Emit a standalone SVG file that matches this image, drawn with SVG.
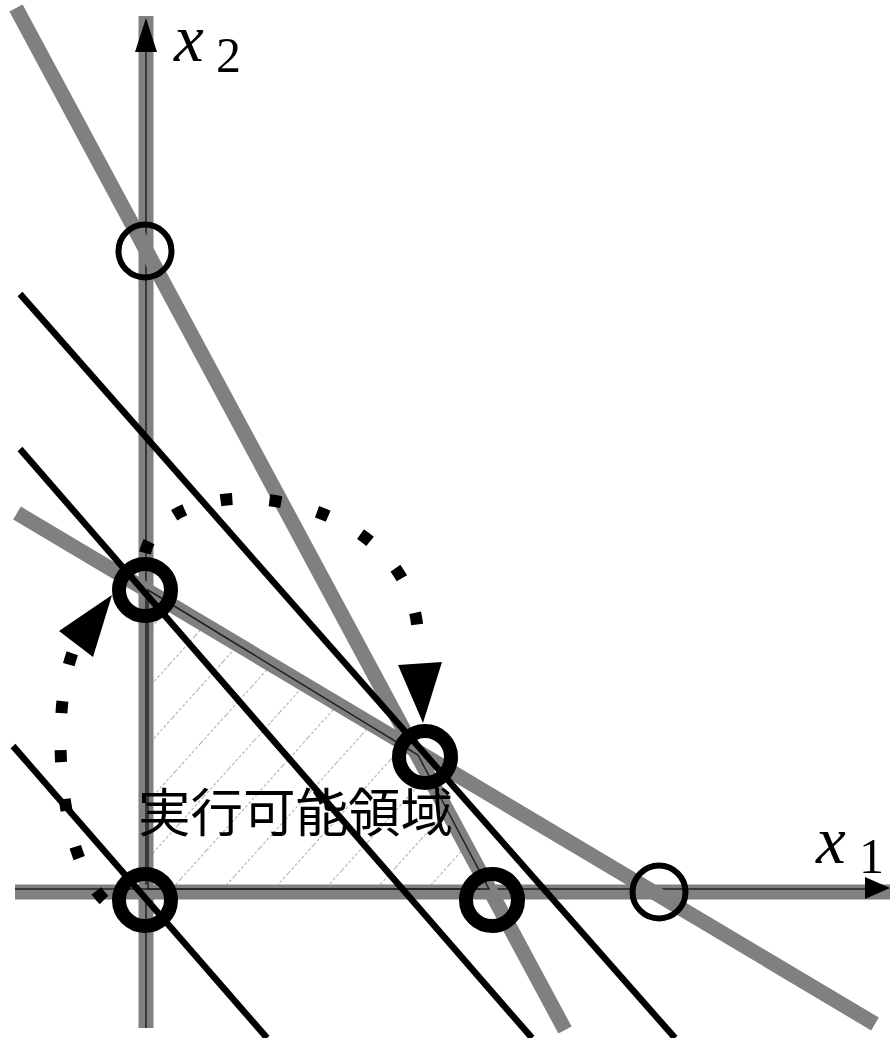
<svg xmlns="http://www.w3.org/2000/svg" width="890" height="1038" viewBox="0 0 890 1038">
  <defs>
    <pattern id="hatch" patternUnits="userSpaceOnUse" width="38" height="38" patternTransform="rotate(42)">
      <line x1="0" y1="0" x2="0" y2="38" stroke="#8c8c8c" stroke-width="1.4" stroke-dasharray="3 2"/>
    </pattern>
  </defs>
  <style>
    .band{stroke:#808080;stroke-width:15;fill:none;stroke-linecap:butt}
    .thin{stroke:#222;stroke-width:1.5;fill:none}
    .obj{stroke:#000;stroke-width:6.5;fill:none}
    .dots{stroke:#000;stroke-width:12;fill:none;stroke-dasharray:12 37}
    .head{fill:#000;stroke:none}
    .bold{fill:none;stroke:#000;stroke-width:14}
    .light{fill:none;stroke:#000;stroke-width:6}
    .math{font-family:"Liberation Serif","DejaVu Serif",serif;font-style:italic;fill:#000}
    .sub{font-family:"Liberation Serif","DejaVu Serif",serif;fill:#000}
    .label{font-family:"Noto Sans CJK JP","Noto Sans CJK SC",sans-serif;font-size:52.5px;fill:#000}
  </style>
  <rect width="890" height="1038" fill="#fff"/>

  <g id="feasible-region">
    <polygon points="148,590 418,755 489,889 148,889" fill="url(#hatch)" stroke="none"/>
  </g>

  <g id="axes">
    <line class="band" x1="146" y1="16" x2="146" y2="1028"/>
    <line class="thin" x1="146" y1="40" x2="146" y2="1028"/>
    <polygon class="head" points="146,18 135,52 157,52"/>
    <line class="band" x1="15" y1="892" x2="890" y2="892"/>
    <line class="thin" x1="15" y1="889" x2="870" y2="889"/>
    <polygon class="head" points="890,888 865,877 865,899"/>
  </g>

  <g id="connectors">
    <line class="band" x1="16" y1="8" x2="565" y2="1030"/>
    <line class="band" x1="17" y1="513" x2="875" y2="1024"/>
    <polygon class="thin" points="148,590 418,755 489,889 148,889" stroke-width="1"/>
    <line class="obj" x1="20" y1="294" x2="675" y2="1038"/>
    <line class="obj" x1="20" y1="449" x2="532" y2="1038"/>
    <line class="obj" x1="13" y1="746" x2="267" y2="1038"/>
    <path class="dots" d="M145,553 C168,458 418,488 418,640"/>
    <polygon class="head" points="398,665 442,662 423,723"/>
    <path class="dots" d="M104,900 C55,850 50,700 76,644"/>
    <polygon class="head" points="59,631 93,657 112,595"/>
  </g>

  <g id="vertex-0-14">
    <circle class="light" cx="145" cy="251" r="26.5"/>
  </g>
  <g id="vertex-0-6">
    <circle class="bold" cx="145" cy="590" r="26"/>
  </g>
  <g id="vertex-opt">
    <circle class="bold" cx="425" cy="757" r="26"/>
  </g>
  <g id="vertex-origin">
    <circle class="bold" cx="145" cy="900" r="26"/>
  </g>
  <g id="vertex-x1-a">
    <circle class="bold" cx="492" cy="900" r="26"/>
  </g>
  <g id="vertex-x1-b">
    <circle class="light" cx="659" cy="892" r="26.5"/>
  </g>

  <g id="label-region">
    <text class="label" x="138" y="832">実行可能領域</text>
  </g>
  <g id="label-x2">
    <text class="math" x="174" y="61" font-size="67">x</text>
    <text class="sub" x="216" y="72" font-size="50">2</text>
  </g>
  <g id="label-x1">
    <text class="math" x="816" y="863" font-size="67">x</text>
    <text class="sub" x="859" y="873" font-size="50">1</text>
  </g>
</svg>
